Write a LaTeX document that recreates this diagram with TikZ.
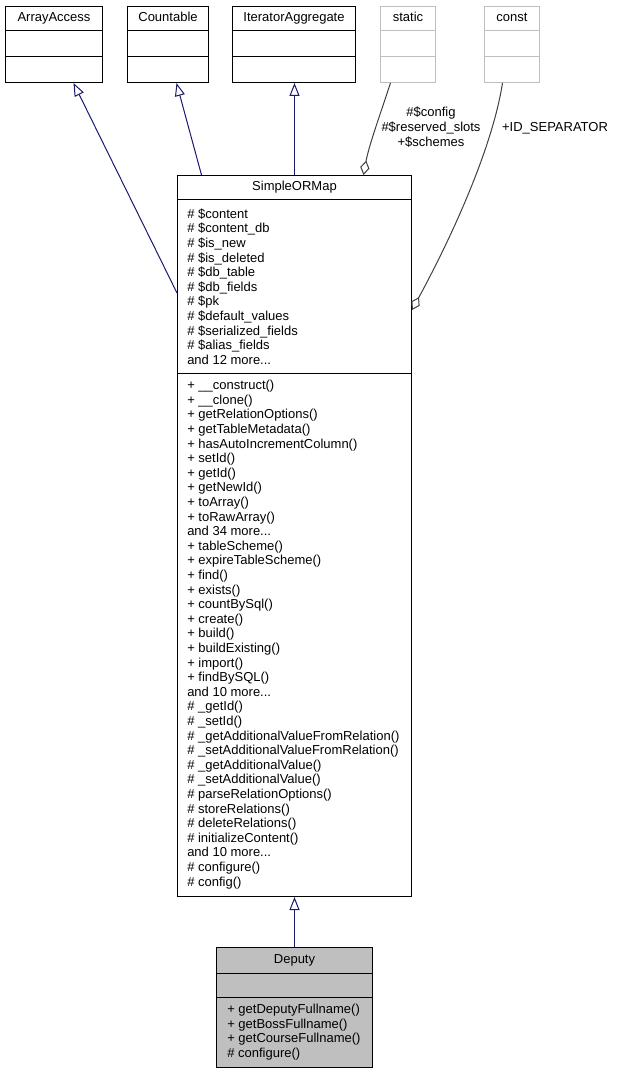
\documentclass[tikz,border=0pt]{standalone}
\usepackage{fontspec}
\setmainfont{Liberation Sans}
\usetikzlibrary{arrows.meta,calc}
\definecolor{navy}{HTML}{191970}
\definecolor{edgegray}{HTML}{404040}
\definecolor{boxgray}{HTML}{BFBFBF}
\newcommand\sepline[3][black]{\draw[draw=#1, line width=0.75pt] ($(#2.north west)+(0,#3)$) -- ($(#2.north east)+(0,#3)$);}
\begin{document}
\begin{tikzpicture}[x=0.75pt,y=-0.75pt,
  clsbox/.style={draw=black, line width=0.75pt, fill=white, rectangle, inner sep=0pt, anchor=north west},
  extbox/.style={clsbox, draw=boxgray},
  curbox/.style={clsbox, fill=boxgray},
  ttltext/.style={inner sep=0pt, anchor=base, font=\fontsize{9.75}{10.95}\selectfont},
  memtext/.style={inner sep=0pt, font=\fontsize{9.75}{10.95}\selectfont, align=left, anchor=west},
  lbltext/.style={inner sep=0pt, font=\fontsize{9.75}{11.25}\selectfont, align=center},
  inhedge/.style={draw=navy, line width=0.75pt, -{Triangle[open, length=9.75pt, width=7.5pt]}},
  usedge/.style={draw=edgegray, line width=0.75pt, -{Diamond[open, length=11pt, width=7pt]}}
]
\useasboundingbox (0,0) rectangle (618,1073);

% top row
\node[clsbox, minimum width=72.75pt, minimum height=57pt] (aa) at (5,6) {};
\node[ttltext] (aat) at ($(aa.north)+(0,16)$) {ArrayAccess};
\sepline{aa}{25}\sepline{aa}{51}

\node[clsbox, minimum width=60.75pt, minimum height=57pt] (ct) at (127,6) {};
\node[ttltext] (ctt) at ($(ct.north)+(0,16)$) {Countable};
\sepline{ct}{25}\sepline{ct}{51}

\node[clsbox, minimum width=92.25pt, minimum height=57pt] (ia) at (232,6) {};
\node[ttltext] (iat) at ($(ia.north)+(0,16)$) {IteratorAggregate};
\sepline{ia}{25}\sepline{ia}{51}

\node[extbox, minimum width=41.25pt, minimum height=57pt] (st) at (380,6) {};
\node[ttltext] (stt) at ($(st.north)+(0,16)$) {static};
\sepline[boxgray]{st}{25}\sepline[boxgray]{st}{51}

\node[extbox, minimum width=41.25pt, minimum height=57pt] (cn) at (484,6) {};
\node[ttltext] (cnt) at ($(cn.north)+(0,16)$) {const};
\sepline[boxgray]{cn}{25}\sepline[boxgray]{cn}{51}

% SimpleORMap
\node[clsbox, minimum width=175.5pt, minimum height=540.75pt] (sorm) at (177,175) {};
\node[ttltext] (sormt) at ($(sorm.north)+(0,16)$) {SimpleORMap};
\sepline{sorm}{25}\sepline{sorm}{198}
\node[memtext] (sorma) at ($(sorm.north west)+(10,111.5)$) {\# \$content\\\# \$content\_db\\\# \$is\_new\\\# \$is\_deleted\\\# \$db\_table\\\# \$db\_fields\\\# \$pk\\\# \$default\_values\\\# \$serialized\_fields\\\# \$alias\_fields\\and 12 more...};
\node[memtext] (sormo) at ($(sorm.north west)+(10,459.5)$) {+ \_\_construct()\\+ \_\_clone()\\+ getRelationOptions()\\+ getTableMetadata()\\+ hasAutoIncrementColumn()\\+ setId()\\+ getId()\\+ getNewId()\\+ toArray()\\+ toRawArray()\\and 34 more...\\+ tableScheme()\\+ expireTableScheme()\\+ find()\\+ exists()\\+ countBySql()\\+ create()\\+ build()\\+ buildExisting()\\+ import()\\+ findBySQL()\\and 10 more...\\\# \_getId()\\\# \_setId()\\\# \_getAdditionalValueFromRelation()\\\# \_setAdditionalValueFromRelation()\\\# \_getAdditionalValue()\\\# \_setAdditionalValue()\\\# parseRelationOptions()\\\# storeRelations()\\\# deleteRelations()\\\# initializeContent()\\and 10 more...\\\# configure()\\\# config()};

% Deputy
\node[curbox, minimum width=117pt, minimum height=90pt] (dep) at (216,947) {};
\node[ttltext] (dept) at ($(dep.north)+(0,16.5)$) {Deputy};
\sepline{dep}{26}\sepline{dep}{50}
\node[memtext] (depo) at ($(dep.north west)+(11,85)$) {+ getDeputyFullname()\\+ getBossFullname()\\+ getCourseFullname()\\\# configure()};

% edges
\draw[inhedge] ($(sorm.north west)+(0,118)$) -- ($(aa.south)+(19.5,0)$);
\draw[inhedge] ($(sorm.north)+(-93,0)$) -- ($(ct.south)+(8.5,0)$);
\draw[inhedge] (sorm.north) -- (sorm.north |- ia.south);
\draw[inhedge] (dep.north) -- (sorm.south);
\draw[usedge] ($(st.south)+(-17.5,0)$) .. controls (381,112) and (369,145) .. ($(sorm.north)+(69,0)$);
\draw[usedge] ($(cn.south)+(-9.5,0)$) .. controls (492,150) and (450,240) .. ($(sorm.north east)+(0,135)$);

% labels
\node[lbltext] (lst) at (431,127) {\#\$config\\\#\$reserved\_slots\\+\$schemes};
\node[lbltext] (lcn) at (555,128) {+ID\_SEPARATOR};
\end{tikzpicture}
\end{document}
